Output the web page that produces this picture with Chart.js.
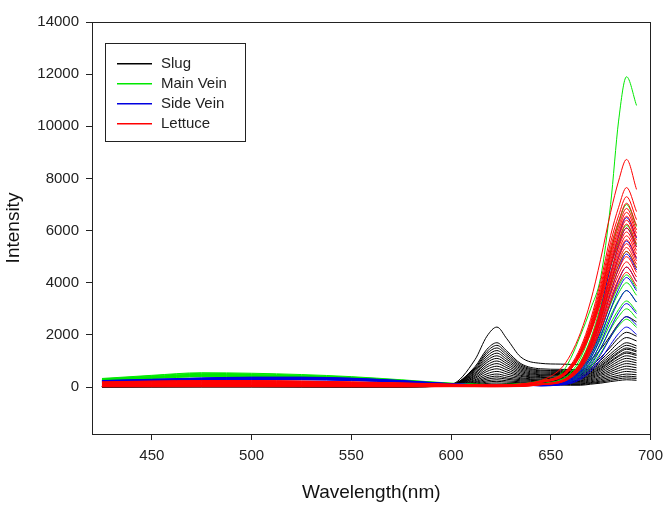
<!DOCTYPE html>
<html>
<head>
<meta charset="utf-8">
<script src="https://cdn.jsdelivr.net/npm/chart.js@4.4.1/dist/chart.umd.min.js"></script>
<style>
  body { margin: 0; background: #fff; }
</style>
</head>
<body>
<canvas id="myChart" width="670" height="512"></canvas>
<script>
// wavelength grid (nm) shared by every spectrum
const wavelengths = [425, 450, 475, 500, 525, 550, 575, 600, 612, 618, 623, 628, 635, 645, 655, 660, 665, 670, 675, 680, 684, 688, 693];

// axis tick values
const xTickValues = [450, 500, 550, 600, 650, 700];
const yTickValues = [0, 2000, 4000, 6000, 8000, 10000, 12000, 14000];

// Slug spectra (black)
const slugSpectra = [
  [40,50,60,60,50,50,50,110,1050,1950,2300,1850,1150,910,880,870,870,1050,1450,1980,2430,2700,2500],
  [40,50,55,55,50,45,45,100,780,1450,1700,1380,900,700,680,670,670,820,1130,1540,1890,2100,1950],
  [35,45,50,50,45,40,40,95,730,1360,1600,1300,850,650,630,625,625,750,1030,1400,1710,1900,1770],
  [35,45,50,50,45,40,40,90,690,1280,1500,1220,800,620,600,595,595,700,950,1280,1530,1700,1580],
  [30,40,45,45,40,35,35,90,640,1190,1400,1140,750,580,560,555,555,660,890,1190,1440,1600,1490],
  [30,40,45,45,40,35,35,85,600,1100,1300,1060,700,540,520,515,515,620,830,1120,1350,1500,1400],
  [30,35,40,40,35,30,30,85,550,1020,1200,980,650,500,480,475,475,580,790,1070,1300,1450,1350],
  [25,35,40,40,35,30,30,80,510,940,1100,900,600,470,450,445,445,540,740,1000,1210,1350,1260],
  [25,30,35,35,30,25,25,80,460,850,1000,820,550,440,420,415,415,510,700,960,1170,1300,1210],
  [25,30,35,35,30,25,25,75,420,770,900,740,500,400,380,375,375,470,650,890,1080,1200,1120],
  [20,25,30,30,25,20,20,70,370,680,800,660,450,370,350,345,345,430,600,810,990,1100,1020],
  [20,25,30,30,25,20,20,70,330,600,700,580,410,340,320,315,315,400,540,740,900,1000,930],
  [20,25,25,25,20,20,20,65,280,510,600,500,360,300,280,275,275,360,490,660,810,900,840],
  [15,20,25,25,20,15,15,60,240,430,500,420,320,270,250,245,245,320,440,590,720,800,740],
  [15,20,20,20,15,15,15,60,200,360,420,350,280,240,220,215,215,280,380,520,630,700,650],
  [15,15,20,20,15,15,15,55,170,300,350,300,240,210,190,185,185,240,330,450,540,600,560],
  [10,15,15,15,15,10,10,50,140,240,280,240,200,180,160,155,155,200,280,380,450,500,470],
  [10,10,15,15,10,10,10,45,110,190,220,190,165,150,130,125,125,170,230,320,380,420,390],
  [10,10,10,10,10,10,10,40,90,140,160,140,130,120,100,95,95,140,190,260,315,350,330],
  [5,10,10,10,10,5,5,35,70,100,110,100,95,90,75,70,70,110,150,210,250,280,260]
];

// Main vein spectra (green)
const mainVeinSpectra = [
  [330,450,550,530,480,400,280,150,110,100,100,105,120,250,500,1100,2000,3000,4200,7000,10200,11900,10800],
  [310,430,525,505,455,380,265,140,105,95,95,100,115,140,280,560,1120,2100,3500,5180,6300,7000,6160],
  [300,405,495,480,430,360,250,135,100,90,90,95,110,125,250,500,990,1860,3100,4590,5580,6200,5460],
  [290,395,485,465,420,350,245,130,98,88,88,92,105,105,210,415,830,1560,2600,3850,4680,5200,4580],
  [280,380,470,450,410,340,240,128,95,85,85,90,100,90,175,345,690,1290,2150,3180,3870,4300,3780],
  [270,370,450,435,395,330,230,125,92,82,82,86,98,85,160,320,640,1200,2000,2960,3600,4000,3520],
  [265,360,440,425,385,320,225,120,90,80,80,84,96,80,150,300,590,1110,1850,2740,3330,3700,3260],
  [255,350,430,415,375,310,220,118,88,78,78,82,94,75,135,265,530,990,1650,2440,2970,3300,2900],
  [250,340,410,400,360,300,210,115,85,75,75,80,90,70,120,240,480,900,1500,2220,2700,3000,2640],
  [240,325,395,380,345,290,200,110,82,72,72,76,88,65,105,210,420,780,1300,1920,2340,2600,2290]
];

// Side vein spectra (blue)
const sideVeinSpectra = [
  [250,300,350,380,380,340,250,130,95,85,85,90,100,100,195,390,845,1690,2990,4620,5790,6500,5720],
  [245,290,340,370,370,330,245,125,92,82,82,87,97,92,185,365,795,1590,2810,4330,5430,6100,5370],
  [235,280,330,355,355,320,235,122,90,80,80,85,94,84,170,335,730,1460,2580,3980,4980,5600,4930],
  [228,273,318,345,345,310,228,118,86,77,77,82,91,77,155,305,665,1330,2350,3620,4540,5100,4490],
  [220,264,308,335,335,300,220,115,84,75,75,79,88,70,140,275,600,1200,2120,3270,4090,4600,4050],
  [212,255,298,323,323,290,212,110,81,72,72,76,85,65,130,250,545,1090,1930,2980,3740,4200,3700],
  [205,246,287,312,312,280,205,107,78,70,70,74,82,60,115,220,480,960,1700,2630,3290,3700,3260],
  [198,237,277,300,300,270,198,103,75,67,67,71,79,55,100,190,415,830,1470,2270,2850,3200,2820],
  [190,228,266,289,289,258,190,99,72,65,65,68,76,50,90,160,350,700,1240,1920,2400,2700,2380],
  [183,219,255,277,277,248,183,95,70,62,62,66,73,45,80,140,300,600,1060,1630,2050,2300,2020]
];

// Lettuce spectra (red)
const lettuceSpectra = [
  [200,230,250,250,230,200,160,110,90,85,85,90,120,250,700,1250,2100,3300,4900,6700,7900,8730,7580],
  [190,220,240,240,220,190,150,105,85,80,80,85,110,230,460,840,1530,2600,4050,5810,6890,7650,6730],
  [180,205,225,225,205,180,145,100,80,75,75,80,105,220,440,800,1460,2480,3870,5550,6570,7300,6420],
  [170,195,210,210,195,170,135,95,75,70,70,75,100,210,420,780,1410,2400,3740,5360,6350,7050,6200],
  [160,185,200,200,185,160,130,90,72,68,68,72,95,205,410,750,1370,2330,3630,5210,6170,6850,6030],
  [150,170,190,190,170,150,120,85,70,65,65,70,90,200,400,740,1340,2280,3550,5090,6030,6700,5900],
  [140,160,175,175,160,140,112,80,65,60,60,65,85,195,390,720,1310,2230,3470,4980,5900,6550,5760],
  [130,150,165,165,150,130,105,75,62,58,58,62,80,190,380,700,1280,2180,3390,4860,5760,6400,5630],
  [120,140,150,150,140,120,96,70,58,55,55,58,75,185,375,690,1250,2130,3310,4750,5630,6250,5500],
  [110,125,140,140,125,110,88,65,55,52,52,55,70,180,365,670,1220,2070,3230,4640,5490,6100,5370],
  [100,115,125,125,115,100,80,60,50,48,48,50,65,120,240,480,950,1790,2980,4400,5360,5950,5240],
  [90,105,115,115,105,90,72,55,46,44,44,46,60,115,230,460,930,1740,2900,4290,5220,5800,5100],
  [80,92,100,100,92,80,64,50,42,40,40,42,55,110,225,450,900,1700,2830,4180,5090,5650,4970],
  [70,80,88,88,80,70,56,45,38,36,36,38,50,110,220,440,880,1650,2750,4070,4950,5500,4840],
  [60,70,75,75,70,60,48,40,34,32,32,34,45,105,215,430,860,1600,2680,3960,4820,5350,4710],
  [50,58,63,63,58,50,40,35,30,28,28,30,40,105,210,415,830,1560,2600,3850,4680,5200,4580],
  [40,46,50,50,46,40,32,30,26,24,24,26,35,100,200,400,800,1500,2500,3700,4500,5000,4400],
  [30,35,38,38,35,30,24,25,22,20,20,22,30,95,190,385,770,1440,2400,3550,4320,4800,4220],
  [20,23,25,25,23,20,16,20,18,16,16,18,25,90,185,370,740,1380,2300,3400,4140,4600,4050],
  [10,12,13,13,12,10,8,15,14,12,12,14,20,90,175,350,700,1320,2200,3260,3960,4400,3870]
];

const groupNames = ['Slug', 'Main Vein', 'Side Vein', 'Lettuce'];
const groupColors = ['#000000', '#00e800', '#0000e0', '#ff0000'];
const groupSpectra = [slugSpectra, mainVeinSpectra, sideVeinSpectra, lettuceSpectra];

const FONT = 'Arial, "Liberation Sans", sans-serif';

// build one line dataset per spectrum; lettuce drawn on top
const datasets = [];
groupSpectra.forEach((spectra, g) => {
  spectra.forEach((values) => {
    datasets.push({
      label: groupNames[g],
      data: values.map((v, i) => ({ x: wavelengths[i], y: v })),
      borderColor: groupColors[g],
      borderWidth: 1,
      pointRadius: 0,
      fill: false,
      cubicInterpolationMode: 'monotone',
      order: groupNames.length - g
    });
  });
});

// box round the plot area
const framePlugin = {
  id: 'frame',
  afterDatasetsDraw(chart) {
    const a = chart.chartArea;
    const c = chart.ctx;
    c.save();
    c.strokeStyle = '#222';
    c.lineWidth = 1;
    c.strokeRect(Math.round(a.left) + 0.5, Math.round(a.top) + 0.5,
                 Math.round(a.right - a.left), Math.round(a.bottom - a.top));
    c.restore();
  }
};

// boxed legend inside the plot, one entry per group
const boxLegend = {
  id: 'boxLegend',
  afterDraw(chart) {
    const a = chart.chartArea;
    const c = chart.ctx;
    const left = Math.round(a.left) + 13, top = Math.round(a.top) + 21;
    const w = 140, h = 98;
    c.save();
    c.fillStyle = '#fff';
    c.fillRect(left, top, w, h);
    c.strokeStyle = '#222';
    c.lineWidth = 1;
    c.strokeRect(left + 0.5, top + 0.5, w, h);
    c.font = '15px ' + FONT;
    c.textBaseline = 'middle';
    groupNames.forEach((name, i) => {
      const y = top + 20 + i * 20;
      c.fillStyle = groupColors[i];
      c.fillRect(left + 12, y, 35, 1.5);
      c.fillStyle = '#222';
      c.fillText(name, left + 56, y + 0.5);
    });
    c.restore();
  }
};

const ctx = document.getElementById('myChart');
new Chart(ctx, {
  type: 'line',
  data: { datasets: datasets },
  options: {
    responsive: false,
    animation: false,
    layout: { padding: { left: 0, top: 22, right: 16, bottom: 0 } },
    plugins: {
      legend: { display: false },
      tooltip: { enabled: false }
    },
    scales: {
      x: {
        type: 'linear',
        min: 420,
        max: 700,
        afterBuildTicks: (axis) => { axis.ticks = xTickValues.map(v => ({ value: v })); },
        afterFit: (axis) => { axis.height = 78; },
        ticks: { color: '#222', font: { size: 15, family: FONT }, padding: 7, maxRotation: 0,
                 callback: (v) => String(v) },
        grid: { display: true, drawOnChartArea: false, drawTicks: true, tickLength: 6, color: '#222' },
        border: { display: false },
        title: { display: true, text: 'Wavelength(nm)', color: '#111', font: { size: 19, family: FONT }, padding: { top: 0, bottom: 8 } }
      },
      y: {
        type: 'linear',
        min: -1800,
        max: 14000,
        afterBuildTicks: (axis) => { axis.ticks = yTickValues.map(v => ({ value: v })); },
        afterFit: (axis) => { axis.width = 92; },
        ticks: { color: '#222', font: { size: 15, family: FONT }, padding: 7,
                 callback: (v) => String(v) },
        grid: { display: true, drawOnChartArea: false, drawTicks: true, tickLength: 6, color: '#222' },
        border: { display: false },
        title: { display: true, text: 'Intensity', color: '#111', font: { size: 19, family: FONT }, padding: { top: 2, bottom: 0 } }
      }
    }
  },
  plugins: [framePlugin, boxLegend]
});
</script>
</body>
</html>
